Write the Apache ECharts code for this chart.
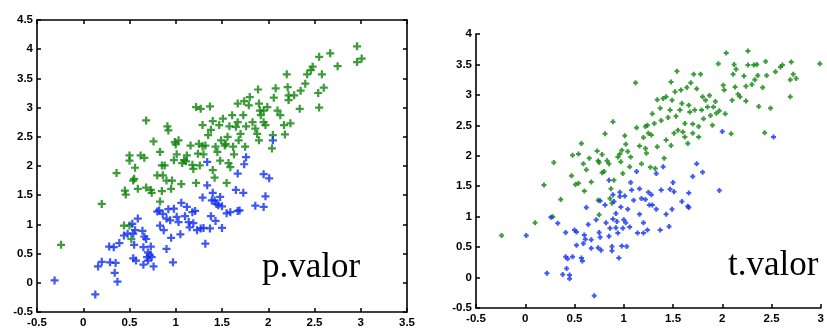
<!DOCTYPE html>
<html>
<head>
<meta charset="utf-8">
<script src="https://cdn.jsdelivr.net/npm/echarts@6/dist/echarts.min.js"></script>
<style>
  html, body { margin: 0; padding: 0; background: #fff; }
  #chart { width: 827px; height: 329px; }
</style>
</head>
<body>
<div id="chart"></div>
<script>
// p.valor panel
const leftBlue = [
  [-0.31,0.04],[0.13,-0.2],[0.16,0.28],[0.2,0.36],[0.28,0.62],[0.33,0.61],[0.34,0.17],[0.37,0.02],
  [0.35,0.34],[0.29,0.35],[0.39,0.68],[0.44,0.81],[0.48,0.84],[0.53,1.01],[0.54,0.84],[0.55,0.65],
  [0.56,0.9],[0.59,1.1],[0.54,0.42],[0.57,0.38],[0.64,0.89],[0.65,0.61],[0.66,0.79],[0.68,0.75],
  [0.65,0.31],[0.69,0.44],[0.72,0.47],[0.7,0.52],[0.73,0.62],[0.7,0.38],[0.74,0.44],[0.76,0.28],
  [0.83,0.98],[0.82,1.24],[0.86,1.18],[0.87,0.9],[0.9,0.58],[0.92,1.26],[0.94,1.07],[0.95,0.77],
  [0.97,0.35],[0.98,1.27],[1.01,1.13],[1.05,0.83],[1.06,1.37],[1.1,1.14],[1.14,1.04],[1.15,0.95],
  [1.18,1.21],[1.21,1.23],[1.19,1.02],[1.23,0.9],[1.27,0.93],[1.3,0.94],[1.32,0.67],[1.29,1.46],
  [1.34,1.67],[1.37,0.93],[1.39,1.41],[1.4,1.54],[1.42,1.41],[1.44,1.35],[1.46,1.33],[1.38,1.14],
  [1.43,1.06],[1.48,1.47],[1.5,1.31],[1.5,0.94],[1.55,1.19],[1.59,1.21],[1.65,1.59],[1.67,1.87],
  [1.67,1.23],[1.69,1.24],[1.73,1.54],[1.74,2.03],[1.76,2.15],[1.86,1.32],[1.95,1.86],[1.95,1.3],
  [1.97,1.48],[2.01,1.79],[2.05,2.44],[1.34,2.07],[0.9,1.1],[1.03,1.04],[0.8,1.22],[1.12,1.3]
];
const leftGreen = [
  [-0.24,0.65],[0.2,1.35],[0.36,1.88],[0.45,1.58],[0.46,1.51],[0.44,0.98],[0.5,0.98],[0.52,0.75],
  [0.5,2.18],[0.5,2.09],[0.55,1.78],[0.56,1.97],[0.54,1.75],[0.59,1.61],[0.62,2.18],[0.66,2.14],
  [0.68,1.63],[0.68,2.78],[0.73,1.59],[0.74,1.54],[0.76,2.42],[0.8,1.84],[0.83,2.24],[0.83,1.39],
  [0.85,1.57],[0.85,2.01],[0.88,2.01],[0.86,1.84],[0.9,1.75],[0.91,2.68],[0.92,2.61],[0.95,1.61],
  [0.98,2.1],[0.96,1.75],[0.99,2.41],[1.0,2.37],[1.01,2.2],[1.03,2.44],[1.06,1.69],[1.07,2.05],
  [1.09,2.1],[1.11,2.08],[1.12,2.18],[1.16,2.35],[1.18,2.02],[1.19,1.95],[1.22,3.01],[1.22,1.71],
  [1.24,2.21],[1.25,2.38],[1.27,2.98],[1.26,2.01],[1.29,2.7],[1.29,2.34],[1.3,2.2],[1.32,2.35],
  [1.35,2.53],[1.37,3.02],[1.38,2.62],[1.4,2.77],[1.4,1.93],[1.42,1.8],[1.43,2.33],[1.45,2.24],
  [1.47,2.7],[1.48,2.09],[1.49,2.44],[1.51,2.81],[1.53,2.35],[1.54,2.38],[1.56,2.5],[1.55,1.71],
  [1.57,2.05],[1.58,2.68],[1.59,1.98],[1.61,2.87],[1.62,2.33],[1.63,2.2],[1.65,2.67],[1.67,2.75],
  [1.67,3.07],[1.68,2.44],[1.7,2.55],[1.73,2.87],[1.74,3.11],[1.75,2.33],[1.76,2.68],[1.79,3.04],
  [1.8,3.18],[1.83,2.75],[1.86,2.64],[1.88,2.55],[1.89,3.31],[1.9,3.07],[1.91,2.95],[1.92,2.87],
  [1.9,2.44],[1.95,2.95],[1.95,2.75],[1.97,2.7],[1.99,3.01],[2.04,2.3],[2.05,2.53],[2.06,3.17],
  [2.08,3.33],[2.1,2.95],[2.13,2.87],[2.17,2.7],[2.18,2.54],[2.2,3.57],[2.21,3.35],[2.22,3.21],
  [2.22,3.13],[2.24,2.73],[2.28,3.21],[2.34,2.98],[2.35,3.29],[2.4,3.41],[2.42,3.57],[2.46,3.64],
  [2.48,3.7],[2.54,3.25],[2.55,3.0],[2.55,3.87],[2.58,3.57],[2.6,3.34],[2.67,3.93],[2.75,3.71],
  [2.96,4.05],[2.96,3.78],[3.01,3.84]
];
// t.valor panel
const rightBlue = [
  [0.01,0.69],[0.22,0.07],[0.26,0.99],[0.33,0.89],[0.38,0.05],[0.41,0.74],[0.41,0.34],[0.43,0.31],
  [0.42,0.15],[0.45,0.04],[0.45,-0.02],[0.48,0.34],[0.5,0.78],[0.52,0.75],[0.52,0.53],[0.57,0.32],
  [0.58,0.27],[0.59,0.56],[0.6,0.7],[0.61,0.63],[0.62,1.15],[0.64,0.87],[0.67,0.48],[0.67,0.62],
  [0.7,-0.3],[0.72,0.95],[0.74,0.49],[0.75,0.74],[0.76,0.66],[0.76,1.26],[0.77,0.45],[0.81,1.19],
  [0.82,0.9],[0.85,0.68],[0.85,1.6],[0.86,0.81],[0.88,0.51],[0.88,0.44],[0.89,1.36],[0.89,0.96],
  [0.9,1.25],[0.92,0.82],[0.92,1.05],[0.93,0.92],[0.94,0.73],[0.95,0.32],[0.96,1.33],[0.96,1.4],
  [0.97,1.16],[0.98,0.52],[0.99,0.81],[1.0,0.95],[1.01,1.34],[1.02,0.9],[1.03,0.51],[1.04,1.12],
  [1.06,0.83],[1.07,1.56],[1.08,1.44],[1.1,1.27],[1.13,1.74],[1.14,0.73],[1.16,1.04],[1.16,1.46],
  [1.18,1.3],[1.2,0.9],[1.2,0.73],[1.22,1.28],[1.24,0.78],[1.25,1.4],[1.26,1.19],[1.28,1.36],
  [1.29,1.19],[1.33,1.12],[1.33,1.71],[1.37,0.78],[1.38,1.44],[1.4,1.82],[1.43,1.04],[1.46,0.84],
  [1.47,1.45],[1.49,1.12],[1.5,1.56],[1.51,1.41],[1.59,1.25],[1.65,1.17],[1.66,1.15],[1.66,1.39],
  [1.7,1.66],[1.74,1.87],[1.8,1.73],[1.97,1.43],[2.0,2.4],[2.52,2.31]
];
const rightGreen = [
  [-0.24,0.69],[0.1,0.9],[0.19,1.52],[0.28,1.0],[0.29,1.89],[0.36,1.28],[0.47,1.67],[0.48,2.01],
  [0.51,1.53],[0.54,2.03],[0.54,1.55],[0.57,2.2],[0.59,1.87],[0.6,1.42],[0.62,1.77],[0.65,1.96],
  [0.67,1.57],[0.73,2.08],[0.74,1.92],[0.75,1.89],[0.74,1.27],[0.75,1.03],[0.78,2.02],[0.78,1.72],
  [0.8,1.74],[0.81,2.36],[0.83,1.92],[0.85,1.87],[0.86,1.3],[0.87,1.46],[0.88,1.22],[0.89,2.56],
  [0.9,1.6],[0.94,1.98],[0.96,2.03],[0.97,1.9],[0.98,2.09],[0.99,1.71],[1.01,2.33],[1.02,2.19],
  [1.04,2.07],[1.06,1.82],[1.07,1.98],[1.12,3.2],[1.13,2.46],[1.16,2.16],[1.18,1.87],[1.2,2.3],
  [1.22,2.12],[1.22,2.48],[1.23,2.04],[1.24,2.5],[1.25,2.37],[1.27,1.81],[1.28,2.34],[1.29,2.69],
  [1.31,2.53],[1.32,1.79],[1.34,2.92],[1.34,2.15],[1.37,2.78],[1.38,2.58],[1.4,2.94],[1.41,1.96],
  [1.43,2.26],[1.43,2.97],[1.45,2.63],[1.47,2.75],[1.48,3.21],[1.48,2.17],[1.49,2.91],[1.51,2.37],
  [1.52,3.05],[1.53,2.65],[1.54,3.39],[1.55,2.42],[1.57,2.75],[1.58,3.08],[1.59,2.86],[1.6,2.39],
  [1.62,2.31],[1.62,2.53],[1.64,3.12],[1.65,2.2],[1.66,2.83],[1.67,2.72],[1.68,3.2],[1.7,2.52],
  [1.7,2.37],[1.71,3.34],[1.72,2.75],[1.74,3.1],[1.76,2.48],[1.76,2.31],[1.78,3.34],[1.79,2.75],
  [1.8,2.97],[1.81,2.61],[1.83,2.91],[1.85,2.8],[1.87,2.99],[1.88,2.66],[1.9,2.5],[1.91,2.8],
  [1.93,2.89],[1.94,2.7],[1.96,3.51],[1.97,2.74],[2.01,3.16],[2.02,3.08],[2.03,2.69],[2.04,3.69],
  [2.09,2.36],[2.1,2.91],[2.11,3.34],[2.12,3.5],[2.13,3.13],[2.14,3.42],[2.16,3.01],[2.18,2.97],
  [2.22,3.31],[2.24,2.9],[2.24,3.14],[2.26,3.72],[2.26,3.49],[2.3,3.17],[2.32,3.49],[2.33,3.25],
  [2.35,3.5],[2.36,3.32],[2.37,2.81],[2.41,3.12],[2.43,2.38],[2.44,3.55],[2.45,3.32],[2.49,2.78],
  [2.54,3.38],[2.59,3.46],[2.61,3.49],[2.69,2.97],[2.69,3.25],[2.7,3.54],[2.72,3.34],[2.75,3.27],
  [2.99,3.51]
];

const blue = '#0f2ef0';
const green = '#0c820a';
const plus = 'path://M3.6 0H6.4V3.6H10V6.4H6.4V10H3.6V6.4H0V3.6H3.6Z';
const dot = 'path://M3 0H7V3H10V7H7V10H3V7H0V3H3Z';

const lbl = { color: '#000', fontFamily: 'Liberation Sans, Arial', fontWeight: 700, fontSize: 11.5 };
const line = { show: true, onZero: false, lineStyle: { color: '#000', width: 1.6 } };
const tick = { show: true, inside: true, length: 4, lineStyle: { color: '#000', width: 1.5 } };

function xAx(grid, min, max, pos, labels) {
  return {
    type: 'value', gridIndex: grid, position: pos, min: min, max: max, interval: 0.5,
    axisLine: line, axisTick: tick, splitLine: { show: false },
    axisLabel: Object.assign({ show: labels, margin: 5, showMinLabel: true, showMaxLabel: true }, lbl)
  };
}
function yAx(grid, min, max, pos, labels) {
  return {
    type: 'value', gridIndex: grid, position: pos, min: min, max: max, interval: 0.5,
    axisLine: line, axisTick: tick, splitLine: { show: false },
    axisLabel: Object.assign({ show: labels, margin: 4, showMinLabel: true, showMaxLabel: true }, lbl)
  };
}
function sc(data, color, sym, size, xi, yi) {
  return {
    type: 'scatter', data: data, xAxisIndex: xi, yAxisIndex: yi,
    symbol: sym, symbolSize: size, itemStyle: { color: color }, silent: true
  };
}

const chart = echarts.init(document.getElementById('chart'), null, { renderer: 'canvas' });
chart.setOption({
  animation: false,
  backgroundColor: '#fff',
  grid: [
    { left: 37, top: 20, width: 370, height: 292 },
    { left: 476, top: 34, width: 347, height: 274 }
  ],
  xAxis: [
    xAx(0, -0.5, 3.5, 'bottom', true),
    xAx(0, -0.5, 3.5, 'top', false),
    xAx(1, -0.5, 3, 'bottom', true)
  ],
  yAxis: [
    yAx(0, -0.5, 4.5, 'left', true),
    yAx(0, -0.5, 4.5, 'right', false),
    yAx(1, -0.5, 4, 'left', true)
  ],
  series: [
    sc(leftGreen, green, plus, 8, 0, 0),
    sc(leftBlue, blue, plus, 8, 0, 0),
    sc(rightGreen, green, dot, 5, 2, 2),
    sc(rightBlue, blue, dot, 5, 2, 2)
  ],
  graphic: [
    { type: 'text', left: 262, top: 250,
      style: { text: 'p.valor', fontFamily: 'Liberation Serif, Times New Roman, serif', fontSize: 35, fill: '#000' } },
    { type: 'text', left: 728, top: 248,
      style: { text: 't.valor', fontFamily: 'Liberation Serif, Times New Roman, serif', fontSize: 35, fill: '#000' } }
  ]
});
</script>
</body>
</html>
